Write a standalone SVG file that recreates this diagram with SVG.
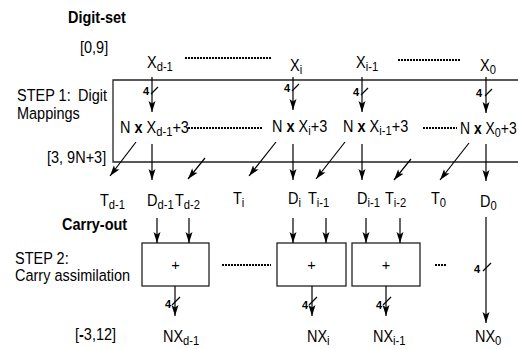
<svg xmlns="http://www.w3.org/2000/svg" width="518" height="349" viewBox="0 0 518 349">
  <style>
    text { font-family: "Liberation Sans", Arial, Helvetica, sans-serif; font-size: 14.5px; fill: #000; }
    .b { font-weight: bold; }
    .s { font-size: 11.2px; }
    .w { font-size: 11px; font-weight: bold; }
    .ln { stroke: #000; stroke-width: 1.2; fill: none; }
    .ar { stroke: #000; stroke-width: 1.2; fill: none; marker-end: url(#ah); }
    .box { stroke: #222; stroke-width: 1.3; fill: #fff; }
    .dot { stroke: #000; stroke-width: 2; stroke-dasharray: 2 1; fill: none; }
  </style>
  <defs>
    <marker id="ah" markerUnits="userSpaceOnUse" markerWidth="12" markerHeight="8" refX="11" refY="4" orient="auto">
      <path d="M0,0.5 L11,4 L0,7.5 L2.5,4 z" fill="#000"/>
    </marker>
  </defs>
  <rect width="518" height="349" fill="#fff"/>

  <!-- side labels -->
  <g id="side-labels">
    <text class="b" transform="translate(68,23) scale(1,1.12)">Digit-set</text>
    <text transform="translate(80,53) scale(1,1.12)">[0,9]</text>
    <text transform="translate(17,101) scale(1,1.12)">STEP 1:<tspan x="61">Digit</tspan></text>
    <text transform="translate(17,119) scale(1,1.12)">Mappings</text>
    <text transform="translate(47,163) scale(1,1.12)">[3, 9N+3]</text>
    <text class="b" transform="translate(62,230) scale(1,1.12)">Carry-out</text>
    <text transform="translate(15,264) scale(1,1.12)">STEP 2:</text>
    <text transform="translate(15,281) scale(1,1.12)">Carry assimilation</text>
    <text transform="translate(75,340) scale(1,1.12)">[<tspan class="b">-</tspan>3,12]</text>
  </g>

  <!-- step 1: digit mapping band -->
  <g id="step1">
    <path class="box" d="M520,80 H113 V162 H520" fill="none"/>
  </g>

  <!-- input digits -->
  <g id="inputs">
    <text transform="translate(147,68) scale(1,1.12)">X<tspan class="s" dy="3">d-1</tspan></text>
    <text transform="translate(290,71) scale(1,1.12)">X<tspan class="s" dy="3">i</tspan></text>
    <text transform="translate(356,68) scale(1,1.12)">X<tspan class="s" dy="3">i-1</tspan></text>
    <text transform="translate(480,71) scale(1,1.12)">X<tspan class="s" dy="3">0</tspan></text>
  </g>

  <!-- mapped digits -->
  <g id="mappings">
    <text transform="translate(120,133) scale(1,1.12)">N <tspan class="b">x</tspan> X<tspan class="s" dy="3">d-1</tspan><tspan dy="-3">+3</tspan></text>
    <text transform="translate(272,132) scale(1,1.12)">N <tspan class="b">x</tspan> X<tspan class="s" dy="3">i</tspan><tspan dy="-3">+3</tspan></text>
    <text transform="translate(343,132) scale(1,1.12)">N <tspan class="b">x</tspan> X<tspan class="s" dy="3">i-1</tspan><tspan dy="-3">+3</tspan></text>
    <text transform="translate(460,134) scale(0.96,1.12)">N <tspan class="b">x</tspan> X<tspan class="s" dy="3">0</tspan><tspan dy="-3">+3</tspan></text>
  </g>

  <!-- transfer and digit outputs -->
  <g id="td-labels">
    <text transform="translate(100,206) scale(1,1.12)">T<tspan class="s" dy="3">d-1</tspan></text>
    <text transform="translate(147,206) scale(1,1.12)">D<tspan class="s" dy="3">d-1</tspan></text>
    <text transform="translate(175,206) scale(1,1.12)">T<tspan class="s" dy="3">d-2</tspan></text>
    <text transform="translate(233,204) scale(1,1.12)">T<tspan class="s" dy="3">i</tspan></text>
    <text transform="translate(288,204) scale(1,1.12)">D<tspan class="s" dy="3">i</tspan></text>
    <text transform="translate(308,204) scale(1,1.12)">T<tspan class="s" dy="3">i-1</tspan></text>
    <text transform="translate(357,204) scale(1,1.12)">D<tspan class="s" dy="3">i-1</tspan></text>
    <text transform="translate(385,204) scale(1,1.12)">T<tspan class="s" dy="3">i-2</tspan></text>
    <text transform="translate(431,204) scale(1,1.12)">T<tspan class="s" dy="3">0</tspan></text>
    <text transform="translate(480,207) scale(1,1.12)">D<tspan class="s" dy="3">0</tspan></text>
  </g>

  <!-- step 2: carry assimilation adders -->
  <g id="adder-d1">
    <rect class="box" x="142" y="243" width="67" height="43"/>
    <text x="175.5" y="270" text-anchor="middle">+</text>
  </g>
  <g id="adder-i">
    <rect class="box" x="277" y="243" width="69" height="43"/>
    <text x="311.5" y="270" text-anchor="middle">+</text>
  </g>
  <g id="adder-i1">
    <rect class="box" x="352" y="243" width="68" height="43"/>
    <text x="386" y="270" text-anchor="middle">+</text>
  </g>

  <!-- results -->
  <g id="outputs">
    <text transform="translate(163,342) scale(1,1.12)">NX<tspan class="s" dy="3">d-1</tspan></text>
    <text transform="translate(307,342) scale(1,1.12)">NX<tspan class="s" dy="3">i</tspan></text>
    <text transform="translate(373,342) scale(1,1.12)">NX<tspan class="s" dy="3">i-1</tspan></text>
    <text transform="translate(475,342) scale(1,1.12)">NX<tspan class="s" dy="3">0</tspan></text>
  </g>

  <!-- connectors -->
  <g id="connectors">
    <!-- ellipses between digit positions -->
    <path class="dot" d="M185,58 H271 M398,60 H461 M188,128 H263 M423,128 H457 M222,265 H271 M435,265 H446"/>

    <!-- inputs into mapping -->
    <line class="ar" x1="152" y1="77" x2="152" y2="112"/>
    <line class="ar" x1="293" y1="77" x2="293" y2="110"/>
    <line class="ar" x1="362" y1="77" x2="362" y2="112"/>
    <line class="ar" x1="486" y1="77" x2="486" y2="113"/>
    <path class="ln" d="M151,94 L158,87 M292,91 L299,84 M361,95 L368,88 M485,96 L492,89"/>
    <text class="w" x="143" y="95">4</text>
    <text class="w" x="284" y="92">4</text>
    <text class="w" x="353" y="96">4</text>
    <text class="w" x="476" y="97">4</text>

    <!-- mapping outputs: digit D down, transfer T diagonally to the next position -->
    <line class="ar" x1="136" y1="142" x2="110" y2="176"/>
    <line class="ar" x1="152" y1="144" x2="152" y2="180"/>
    <line class="ar" x1="205" y1="158" x2="188" y2="179"/>
    <line class="ar" x1="276" y1="142" x2="249" y2="176"/>
    <line class="ar" x1="293" y1="144" x2="293" y2="180"/>
    <line class="ar" x1="345" y1="142" x2="316" y2="179"/>
    <line class="ar" x1="362" y1="144" x2="362" y2="180"/>
    <line class="ar" x1="411" y1="159" x2="394" y2="180"/>
    <line class="ar" x1="469" y1="143" x2="440" y2="180"/>
    <line class="ar" x1="486" y1="144" x2="486" y2="181"/>

    <!-- into adders -->
    <line class="ar" x1="157" y1="218" x2="157" y2="243"/>
    <line class="ar" x1="189" y1="218" x2="189" y2="243"/>
    <line class="ar" x1="293" y1="218" x2="293" y2="243"/>
    <line class="ar" x1="326" y1="218" x2="326" y2="243"/>
    <line class="ar" x1="366" y1="218" x2="366" y2="243"/>
    <line class="ar" x1="400" y1="218" x2="400" y2="243"/>

    <!-- adder outputs -->
    <line class="ar" x1="175" y1="286" x2="175" y2="316"/>
    <line class="ar" x1="312" y1="286" x2="312" y2="316"/>
    <line class="ar" x1="386" y1="286" x2="386" y2="316"/>
    <line class="ar" x1="486" y1="217" x2="486" y2="323"/>
    <path class="ln" d="M172,305 L180,297 M309,305 L317,297 M383,305 L391,297 M483,271 L491,263"/>
    <text class="w" x="165" y="308">4</text>
    <text class="w" x="302" y="309">4</text>
    <text class="w" x="376" y="309">4</text>
    <text class="w" x="474" y="273">4</text>
  </g>
</svg>
